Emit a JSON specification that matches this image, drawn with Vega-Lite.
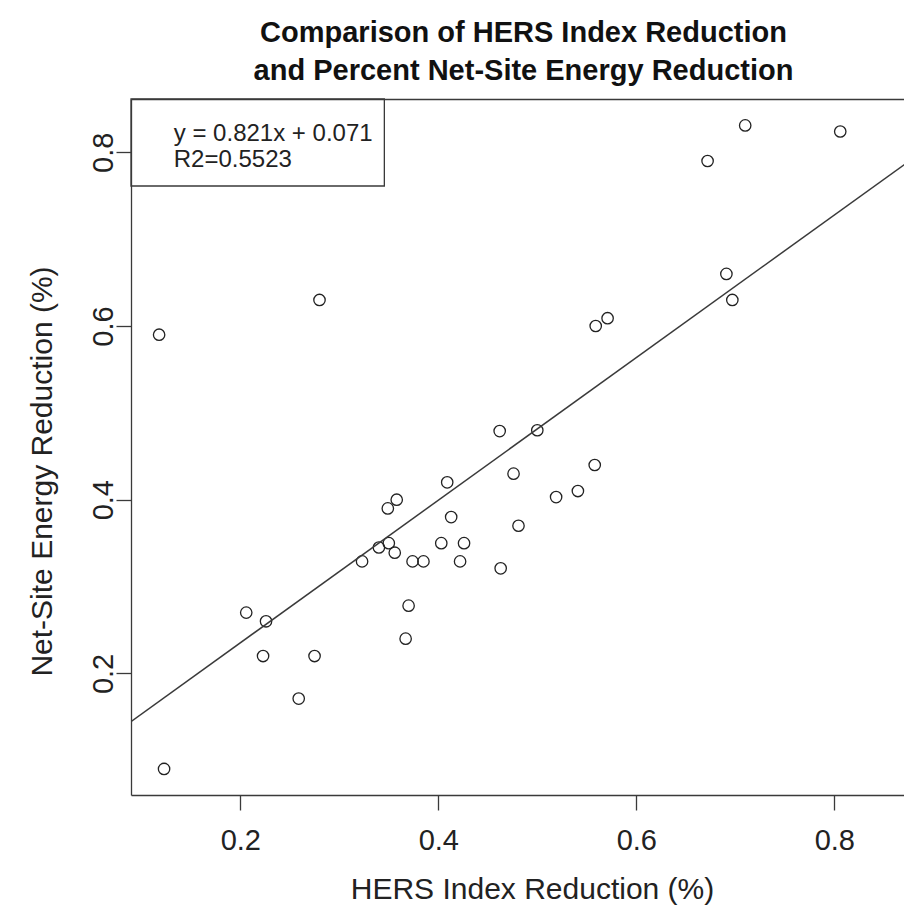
{
  "$schema": "https://vega.github.io/schema/vega-lite/v6.json",
  "autosize": {"type": "none"},
  "padding": {"left": 131, "top": 99, "right": 0, "bottom": 119},
  "width": 773,
  "height": 696,
  "background": "white",
  "title": {
    "text": ["Comparison of HERS Index Reduction", "and Percent Net-Site Energy Reduction"],
    "font": "Liberation Sans",
    "fontSize": 29,
    "fontWeight": "bold",
    "color": "#111111",
    "anchor": "middle",
    "baseline": "alphabetic",
    "lineHeight": 38,
    "offset": -11,
    "dx": 6
  },
  "config": {
    "view": {"stroke": null},
    "axis": {
      "grid": false,
      "labelFont": "Liberation Sans",
      "titleFont": "Liberation Sans",
      "labelFontSize": 29,
      "titleFontSize": 30,
      "labelColor": "#222222",
      "titleColor": "#222222",
      "titleFontWeight": "normal",
      "domainColor": "#3a3a3a",
      "domainWidth": 1.3,
      "tickColor": "#3a3a3a",
      "tickWidth": 1.3,
      "tickSize": 15,
      "labelFlush": false,
      "labelOverlap": false
    }
  },
  "datasets": {
    "pts": [
      {"hers": 0.118, "net": 0.590},
      {"hers": 0.123, "net": 0.090},
      {"hers": 0.206, "net": 0.270},
      {"hers": 0.226, "net": 0.260},
      {"hers": 0.223, "net": 0.220},
      {"hers": 0.259, "net": 0.171},
      {"hers": 0.275, "net": 0.220},
      {"hers": 0.280, "net": 0.630},
      {"hers": 0.323, "net": 0.329},
      {"hers": 0.340, "net": 0.345},
      {"hers": 0.349, "net": 0.390},
      {"hers": 0.350, "net": 0.350},
      {"hers": 0.358, "net": 0.400},
      {"hers": 0.356, "net": 0.339},
      {"hers": 0.367, "net": 0.240},
      {"hers": 0.370, "net": 0.278},
      {"hers": 0.374, "net": 0.329},
      {"hers": 0.385, "net": 0.329},
      {"hers": 0.403, "net": 0.350},
      {"hers": 0.409, "net": 0.420},
      {"hers": 0.413, "net": 0.380},
      {"hers": 0.422, "net": 0.329},
      {"hers": 0.426, "net": 0.350},
      {"hers": 0.462, "net": 0.479},
      {"hers": 0.463, "net": 0.321},
      {"hers": 0.476, "net": 0.430},
      {"hers": 0.481, "net": 0.370},
      {"hers": 0.500, "net": 0.480},
      {"hers": 0.519, "net": 0.403},
      {"hers": 0.541, "net": 0.410},
      {"hers": 0.558, "net": 0.440},
      {"hers": 0.559, "net": 0.600},
      {"hers": 0.571, "net": 0.609},
      {"hers": 0.672, "net": 0.790},
      {"hers": 0.710, "net": 0.831},
      {"hers": 0.691, "net": 0.660},
      {"hers": 0.697, "net": 0.630},
      {"hers": 0.806, "net": 0.824}
    ],
    "fit": [
      {"hers": 0.05, "net": 0.11205},
      {"hers": 0.95, "net": 0.85095}
    ],
    "box": [
      {"x1": 0.0896, "x2": 0.3455, "y1": 0.8614, "y2": 0.7612}
    ],
    "txt": [
      {"hers": 0.1328, "net": 0.8130, "label": "y = 0.821x + 0.071"},
      {"hers": 0.1328, "net": 0.7831, "label": "R2=0.5523"}
    ]
  },
  "layer": [
    {
      "data": {"name": "pts"},
      "mark": {"type": "point", "shape": "circle", "filled": false, "stroke": "#222222", "strokeWidth": 1.3, "size": 130, "opacity": 1},
      "encoding": {
        "x": {
          "field": "hers", "type": "quantitative",
          "scale": {"domain": [0.0896, 0.8704], "zero": false, "nice": false},
          "axis": {
            "orient": "bottom",
            "values": [0.2, 0.4, 0.6, 0.8],
            "format": ".1f",
            "labelPadding": 39,
            "labelBaseline": "alphabetic",
            "title": "HERS Index Reduction (%)",
            "titleBaseline": "alphabetic",
            "titleY": 103,
            "titleX": 401
          }
        },
        "y": {
          "field": "net", "type": "quantitative",
          "scale": {"domain": [0.06, 0.8614], "zero": false, "nice": false},
          "axis": {
            "orient": "left",
            "values": [0.2, 0.4, 0.6, 0.8],
            "format": ".1f",
            "labelAngle": 270,
            "labelAlign": "center",
            "labelBaseline": "alphabetic",
            "labelPadding": 4,
            "title": "Net-Site Energy Reduction (%)",
            "titleAngle": 270,
            "titleAlign": "center",
            "titleBaseline": "alphabetic",
            "titleX": -80,
            "titleY": 372
          }
        }
      }
    },
    {
      "data": {"name": "fit"},
      "mark": {"type": "line", "clip": true, "color": "#3a3a3a", "strokeWidth": 1.5},
      "encoding": {
        "x": {
          "field": "hers", "type": "quantitative",
          "scale": {"domain": [0.0896, 0.8704], "zero": false, "nice": false},
          "axis": {"orient": "top", "labels": false, "ticks": false, "title": null, "domain": true}
        },
        "y": {
          "field": "net", "type": "quantitative",
          "scale": {"domain": [0.06, 0.8614], "zero": false, "nice": false},
          "axis": {
            "orient": "left",
            "values": [0.2, 0.4, 0.6, 0.8],
            "format": ".1f",
            "labelAngle": 270,
            "labelAlign": "center",
            "labelBaseline": "alphabetic",
            "labelPadding": 4,
            "title": "Net-Site Energy Reduction (%)",
            "titleAngle": 270,
            "titleAlign": "center",
            "titleBaseline": "alphabetic",
            "titleX": -80,
            "titleY": 372
          }
        }
      }
    },
    {
      "data": {"name": "box"},
      "mark": {"type": "rect", "fill": null, "fillOpacity": 0, "stroke": "#3a3a3a", "strokeWidth": 1.3},
      "encoding": {
        "x": {"field": "x1", "type": "quantitative", "scale": {"domain": [0.0896, 0.8704], "zero": false, "nice": false}, "axis": null},
        "x2": {"field": "x2"},
        "y": {"field": "y1", "type": "quantitative", "scale": {"domain": [0.06, 0.8614], "zero": false, "nice": false},
          "axis": {
            "orient": "left",
            "values": [0.2, 0.4, 0.6, 0.8],
            "format": ".1f",
            "labelAngle": 270,
            "labelAlign": "center",
            "labelBaseline": "alphabetic",
            "labelPadding": 4,
            "title": "Net-Site Energy Reduction (%)",
            "titleAngle": 270,
            "titleAlign": "center",
            "titleBaseline": "alphabetic",
            "titleX": -80,
            "titleY": 372
          }},
        "y2": {"field": "y2"}
      }
    },
    {
      "data": {"name": "txt"},
      "mark": {"type": "text", "align": "left", "baseline": "alphabetic", "font": "Liberation Sans", "fontSize": 24, "color": "#222222"},
      "encoding": {
        "x": {"field": "hers", "type": "quantitative", "scale": {"domain": [0.0896, 0.8704], "zero": false, "nice": false}, "axis": null},
        "y": {"field": "net", "type": "quantitative", "scale": {"domain": [0.06, 0.8614], "zero": false, "nice": false},
          "axis": {
            "orient": "left",
            "values": [0.2, 0.4, 0.6, 0.8],
            "format": ".1f",
            "labelAngle": 270,
            "labelAlign": "center",
            "labelBaseline": "alphabetic",
            "labelPadding": 4,
            "title": "Net-Site Energy Reduction (%)",
            "titleAngle": 270,
            "titleAlign": "center",
            "titleBaseline": "alphabetic",
            "titleX": -80,
            "titleY": 372
          }},
        "text": {"field": "label"}
      }
    }
  ],
  "resolve": {"axis": {"x": "independent"}}
}
